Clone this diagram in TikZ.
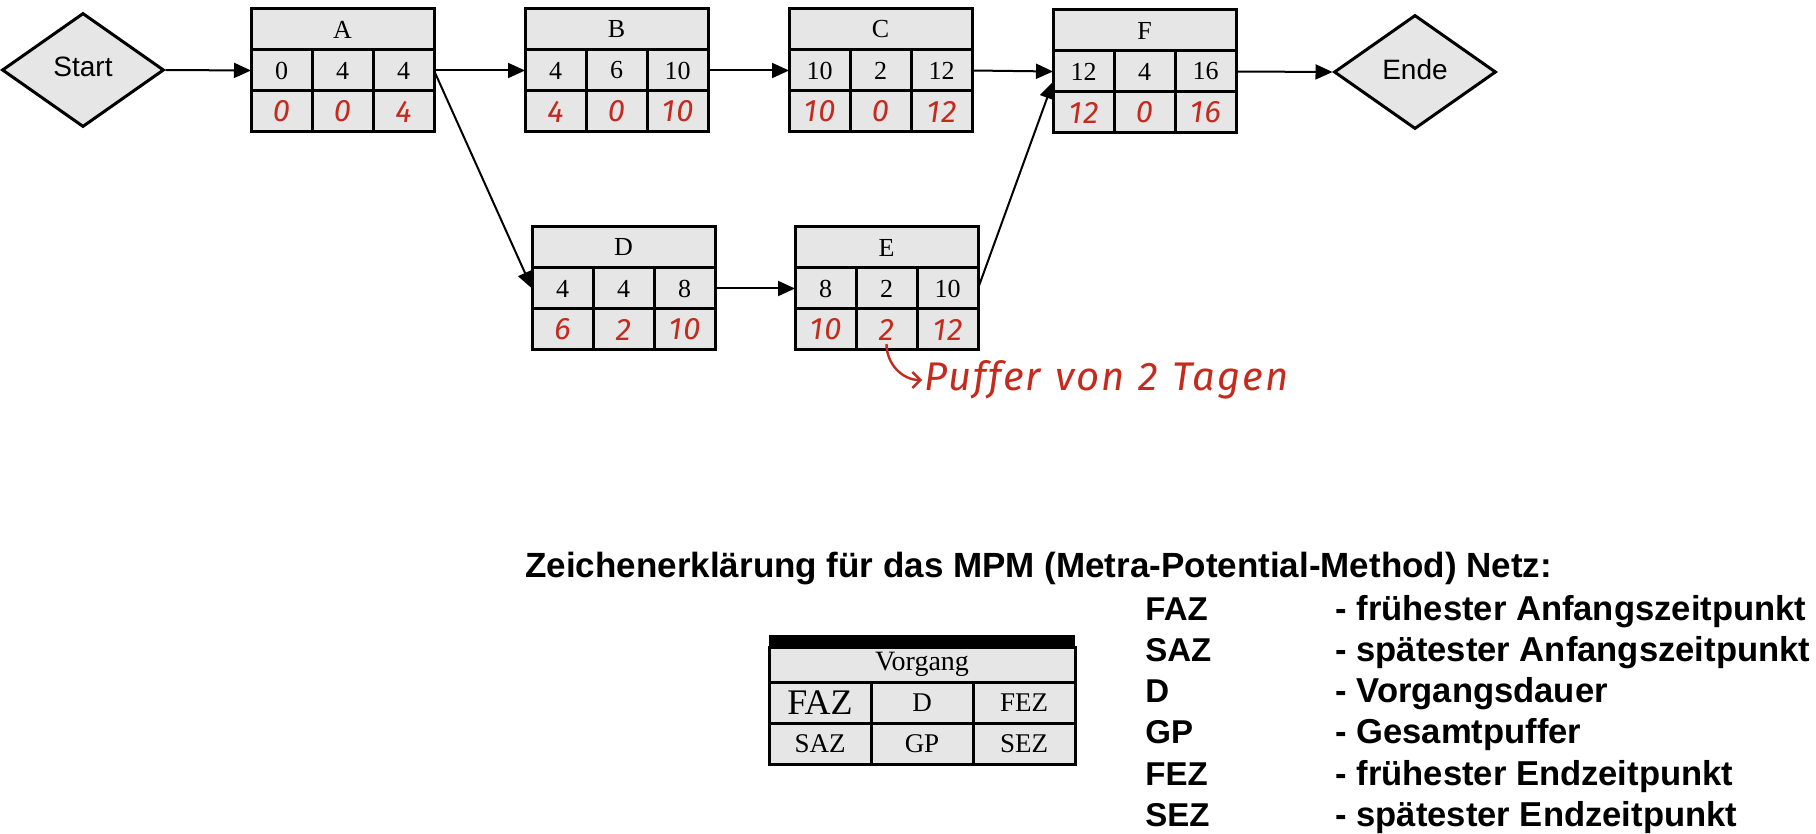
\documentclass[tikz,border=0pt]{standalone}
\usepackage{fontspec}
\setmainfont{Liberation Serif}
\newfontfamily\arialfont{Liberation Sans}
\newfontfamily\handfont[LetterSpace=5]{Fira Sans}
\usetikzlibrary{shapes.geometric, arrows.meta, positioning, calc}
\definecolor{boxgray}{HTML}{E6E6E6}
\definecolor{penred}{HTML}{C42B1F}

% one MPM box: name, top-left corner, title, FAZ, D, FEZ, SAZ, GP, SEZ
\newcommand{\mpmnode}[9]{%
  \node[mpmhead, anchor=north west] (#1) at #2 {#3};
  \node[mpmcell, anchor=north west] (#1-1) at (#1.south west) {#4};
  \node[mpmcell, right=0pt of #1-1] (#1-2) {#5};
  \node[mpmcell, right=0pt of #1-2] (#1-3) {#6};
  \node[mpmred, below=0pt of #1-1] (#1-4) {#7};
  \node[mpmred, below=0pt of #1-2] (#1-5) {#8};
  \node[mpmred, below=0pt of #1-3] (#1-6) {#9};
}

\begin{document}
\begin{tikzpicture}[
    x=0.5pt, y=-0.5pt,
    mpmhead/.style={draw, line width=1.5pt, fill=boxgray, minimum width=91.5pt, minimum height=20.5pt, inner sep=0pt, outer sep=0pt, font=\fontsize{13}{15}\selectfont},
    mpmcell/.style={draw, line width=1.5pt, fill=boxgray, minimum width=30.5pt, minimum height=20.5pt, inner sep=0pt, outer sep=0pt, font=\fontsize{13}{15}\selectfont},
    mpmred/.style={mpmcell, text=penred, font=\handfont\itshape\fontsize{15.5}{17}\selectfont},
    lcell/.style={mpmcell, minimum width=51pt, font=\fontsize{13.5}{15}\selectfont},
    event/.style={draw, diamond, line width=1.5pt, fill=boxgray, minimum width=81pt, minimum height=57pt, inner sep=0pt, font=\arialfont\fontsize{14}{16}\selectfont},
    arr/.style={-{Triangle[length=8.5pt, width=7.5pt]}, line width=1pt},
    legend/.style={font=\arialfont\bfseries\fontsize{16.5}{19}\selectfont, inner sep=0pt, anchor=base west},
    node distance=0pt,
]
\useasboundingbox (0,0) rectangle (1816,834);

% network
\node[event] (start) at (83,70) {\raisebox{3pt}{Start}};
\mpmnode{A}{(251,9)}{A}{0}{4}{4}{0}{0}{4}
\mpmnode{B}{(525,9)}{B}{4}{6}{10}{4}{0}{10}
\mpmnode{C}{(789,9)}{C}{10}{2}{12}{10}{0}{12}
\mpmnode{F}{(1053,10)}{F}{12}{4}{16}{12}{0}{16}
\mpmnode{D}{(532,227)}{D}{4}{4}{8}{6}{2}{10}
\mpmnode{E}{(795,227)}{E}{8}{2}{10}{10}{2}{12}
\node[event] (ende) at (1415,72) {\raisebox{3pt}{Ende}};

\draw[arr] (start.east) -- (A-1.west);
\draw[arr] (A-3.east) -- (B-1.west);
\draw[arr] (A-3.east) -- (D-1.west);
\draw[arr] (B-3.east) -- (C-1.west);
\draw[arr] (C-3.east) -- (F-1.west);
\draw[arr] (D-3.east) -- (E-1.west);
\draw[arr] (E-3.east) -- ($(F-1.west)!0.5!(F-1.south west)$);
\draw[arr] (F-3.east) -- (ende.west);

% note on the buffer
\node[anchor=west, text=penred, inner sep=0pt, font=\handfont\itshape\fontsize{20}{22}\selectfont] (puffer) at (924,380) {Puffer\hspace{7pt}von\hspace{7pt}2\hspace{7pt}Tagen};
\draw[penred, line width=1.2pt, -{Straight Barb[length=4pt]}] ([yshift=3pt]E-5.south) to[out=-90, in=180] ([xshift=-1pt]puffer.west);

% legend
\node[legend, font=\arialfont\bfseries\fontsize{17.5}{20}\selectfont] (title) at (525,577) {Zeichenerklärung für das MPM (Metra-Potential-Method) Netz:};
\node[fill=black, minimum width=153pt, minimum height=6pt, inner sep=0pt, outer sep=0pt, anchor=north west] (lbar) at (769,635) {};
\node[mpmhead, minimum width=153pt, minimum height=17.5pt, anchor=north west, font=\fontsize{14}{16}\selectfont] (lhead) at (lbar.south west) {Vorgang};
\node[lcell, anchor=north west] (lfaz) at (lhead.south west) {\fontsize{18}{20}\selectfont\raisebox{-2.5pt}{FAZ}};
\node[lcell, right=of lfaz] (ld) {D};
\node[lcell, right=of ld] (lfez) {FEZ};
\node[lcell, below=of lfaz] (lsaz) {SAZ};
\node[lcell, below=of ld] (lgp) {GP};
\node[lcell, below=of lfez] (lsez) {SEZ};

\foreach \abbr/\desc [count=\i from 0] in {FAZ/frühester Anfangszeitpunkt, SAZ/spätester Anfangszeitpunkt, D/Vorgangsdauer, GP/Gesamtpuffer, FEZ/frühester Endzeitpunkt, SEZ/spätester Endzeitpunkt} {
  \node[legend] (abbr\i) at (1145, {620+41.3*\i}) {\abbr};
  \node[legend, font=\arialfont\bfseries\fontsize{17.3}{20}\selectfont] (desc\i) at (1335, {620+41.3*\i}) {- \desc};
}
\end{tikzpicture}
\end{document}
